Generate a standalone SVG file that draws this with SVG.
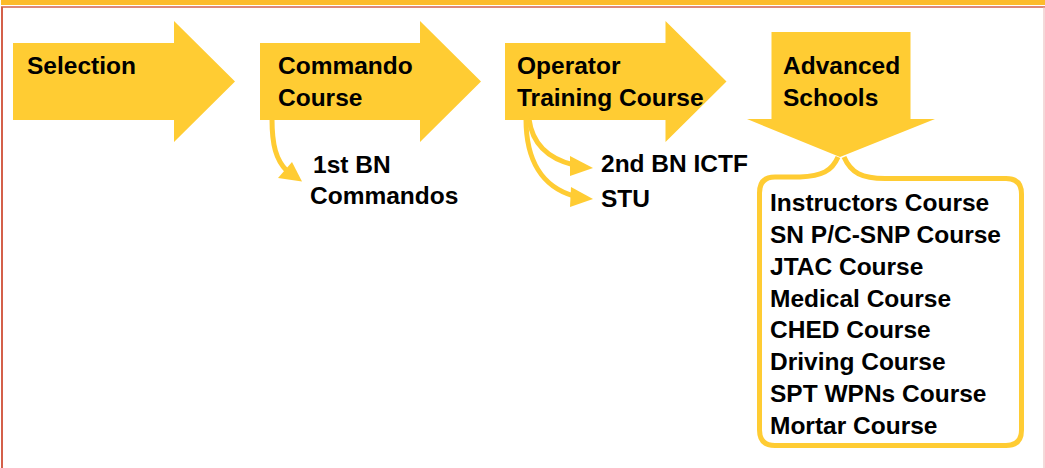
<svg xmlns="http://www.w3.org/2000/svg" width="1045" height="468" viewBox="0 0 1045 468">
<style>
.t{font-family:"Liberation Sans",Arial,sans-serif;font-weight:bold;font-size:24.5px;fill:#000}
.shape{fill:#FFCC33}
.conn{fill:none;stroke:#FFCC33;stroke-width:5}
.head{fill:#FFCC33}
</style>
<rect x="0" y="0" width="1045" height="468" fill="#fff"/>
<g id="frame">
<rect x="1" y="0" width="1044" height="5" fill="#FDBB2B"/>
<line x1="1" y1="7" x2="1045" y2="7" stroke="#D4604A" stroke-width="1.5"/>
<line x1="2" y1="7" x2="2" y2="468" stroke="#D4604A" stroke-width="2"/>
<line x1="1044" y1="7" x2="1044" y2="468" stroke="#E8B4B4" stroke-width="1"/>
</g>
<g id="selection">
<polygon class="shape" points="13,43 174,43 174,21 235,81.5 174,142 174,120 13,120"/>
<text class="t" x="27" y="74">Selection</text>
</g>
<g id="commando">
<polygon class="shape" points="260,43 420,43 420,21 481,81.5 420,142 420,120 260,120"/>
<text class="t" x="278" y="74">Commando</text>
<text class="t" x="278" y="106">Course</text>
</g>
<g id="operator">
<polygon class="shape" points="505,43 665.5,43 665.5,21 726.5,81.5 665.5,142 665.5,120 505,120"/>
<text class="t" x="517" y="74">Operator</text>
<text class="t" x="517" y="106">Training Course</text>
</g>
<g id="advanced">
<polygon class="shape" points="771.5,32 910.5,32 910.5,119 935,119 840,157 747,119 771.5,119"/>
<text class="t" x="783" y="74">Advanced</text>
<text class="t" x="783" y="106">Schools</text>
</g>
<g id="connectors">
<path class="conn" d="M272 119 C272 145 276 160 287 171"/>
<polygon class="head" points="278,178 292,162 302,181.5"/>
<path class="conn" d="M529 119 C532 142 545 158 574 165"/>
<polygon class="head" points="570,156 570,176 593,168"/>
<path class="conn" d="M526 119 C526 160 542 187 574 196"/>
<polygon class="head" points="571,187 570,207 593,199"/>
</g>
<g id="ist-bn">
<text class="t" x="313" y="173">1st BN</text>
<text class="t" x="310" y="204">Commandos</text>
</g>
<g id="second-bn">
<text class="t" x="601" y="172">2nd BN ICTF</text>
</g>
<g id="stu">
<text class="t" x="601" y="207">STU</text>
</g>
<g id="schools-list">
<path class="conn" d="M838 157 C832 171 822 176 800 177 L775 177 Q759.5 177 759.5 193 L759.5 430 Q759.5 445.5 775 445.5 L1006 445.5 Q1021.5 445.5 1021.5 430 L1021.5 194 Q1021.5 178.5 1006 178.5 L885 178.5 C862 178.5 851 173 844 157"/>
<text class="t" x="770" y="211">Instructors Course</text>
<text class="t" x="770" y="243">SN P/C-SNP Course</text>
<text class="t" x="770" y="274.5">JTAC Course</text>
<text class="t" x="770" y="306.5">Medical Course</text>
<text class="t" x="770" y="338">CHED Course</text>
<text class="t" x="770" y="370">Driving Course</text>
<text class="t" x="770" y="402">SPT WPNs Course</text>
<text class="t" x="770" y="434">Mortar Course</text>
</g>
</svg>
